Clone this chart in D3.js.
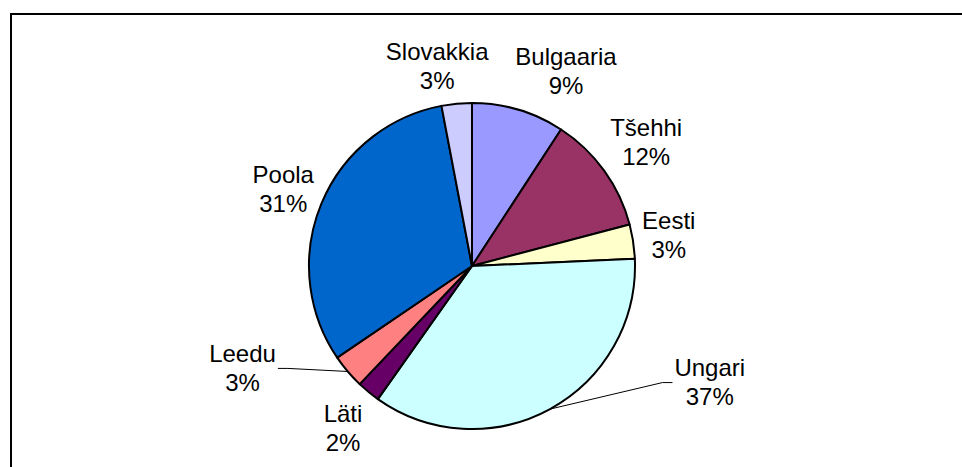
<!DOCTYPE html>
<html>
<head>
<meta charset="utf-8">
<script src="https://cdn.jsdelivr.net/npm/d3@7"></script>
<style>
  body { margin: 0; background: #fff; }
  text { font-family: "Liberation Sans", Arial, sans-serif; font-size: 24px; fill: #000; }
</style>
</head>
<body>
<div id="chart"></div>
<script>
// slices, clockwise from 12 o'clock
var countries = ["Bulgaaria", "Tšehhi", "Eesti", "Ungari", "Läti", "Leedu", "Poola", "Slovakkia"];
var shares = [9.2, 11.7, 3.4, 35.5, 2.3, 3.4, 31.5, 3.0];
var pctLabels = ["9%", "12%", "3%", "37%", "2%", "3%", "31%", "3%"];
var colors = ["#9999ff", "#993366", "#ffffcc", "#ccffff", "#660066", "#ff8080", "#0066cc", "#ccccff"];

var W = 962, H = 467;
var cx = 472, cy = 266, r = 163, labelR = 200;

// label nudges from the label-radius centroid, and which labels get a leader line
var nudge = {
  "Bulgaaria": [37, -3], "Tšehhi": [12, -6], "Eesti": [-1, 0], "Ungari": [142, -59],
  "Läti": [-2, 8], "Leedu": [-77, -27], "Poola": [-4, 0], "Slovakkia": [-16, 0]
};
var leader = {"Ungari": true, "Leedu": true};

var svg = d3.select("#chart").append("svg")
  .attr("width", W)
  .attr("height", H);

// frame
svg.append("rect")
  .attr("x", 11).attr("y", 14)
  .attr("width", W + 20).attr("height", H + 20)
  .attr("fill", "none")
  .attr("stroke", "#000")
  .attr("stroke-width", 2);

var data = countries.map(function(c, i) { return {name: c, value: shares[i], pct: pctLabels[i], color: colors[i]}; });

var pie = d3.pie().sort(null).value(function(d) { return d.value; });
var arcs = pie(data);

var arc = d3.arc().innerRadius(0).outerRadius(r);

var g = svg.append("g").attr("transform", "translate(" + cx + "," + cy + ")");

g.selectAll(".slice")
  .data(arcs)
  .enter()
  .append("path")
  .attr("class", "slice")
  .attr("d", arc)
  .attr("fill", function(d) { return d.data.color; })
  .attr("stroke", "#000")
  .attr("stroke-width", 2)
  .attr("stroke-linejoin", "round");

function pt(a, rad) { return [rad * Math.sin(a), -rad * Math.cos(a)]; }

arcs.forEach(function(d) {
  var mid = (d.startAngle + d.endAngle) / 2;
  var p = pt(mid, labelR);
  var n = nudge[d.data.name];
  var x = p[0] + n[0], y = p[1] + n[1];

  var t = g.append("text")
    .attr("text-anchor", "middle")
    .attr("x", x)
    .attr("y", y - 6.5);
  t.append("tspan").attr("x", x).text(d.data.name);
  t.append("tspan").attr("x", x).attr("dy", 29).text(d.data.pct);

  if (leader[d.data.name]) {
    var e = pt(mid, r);
    var tw = t.select("tspan").node().getComputedTextLength();
    var side = x > 0 ? -1 : 1;
    var endX = x + side * (tw / 2 + 2);
    var pts = [e, [endX + side * 10, y], [endX, y]];
    g.append("path")
      .attr("d", d3.line()(pts))
      .attr("fill", "none")
      .attr("stroke", "#000")
      .attr("stroke-width", 1);
  }
});
</script>
</body>
</html>
